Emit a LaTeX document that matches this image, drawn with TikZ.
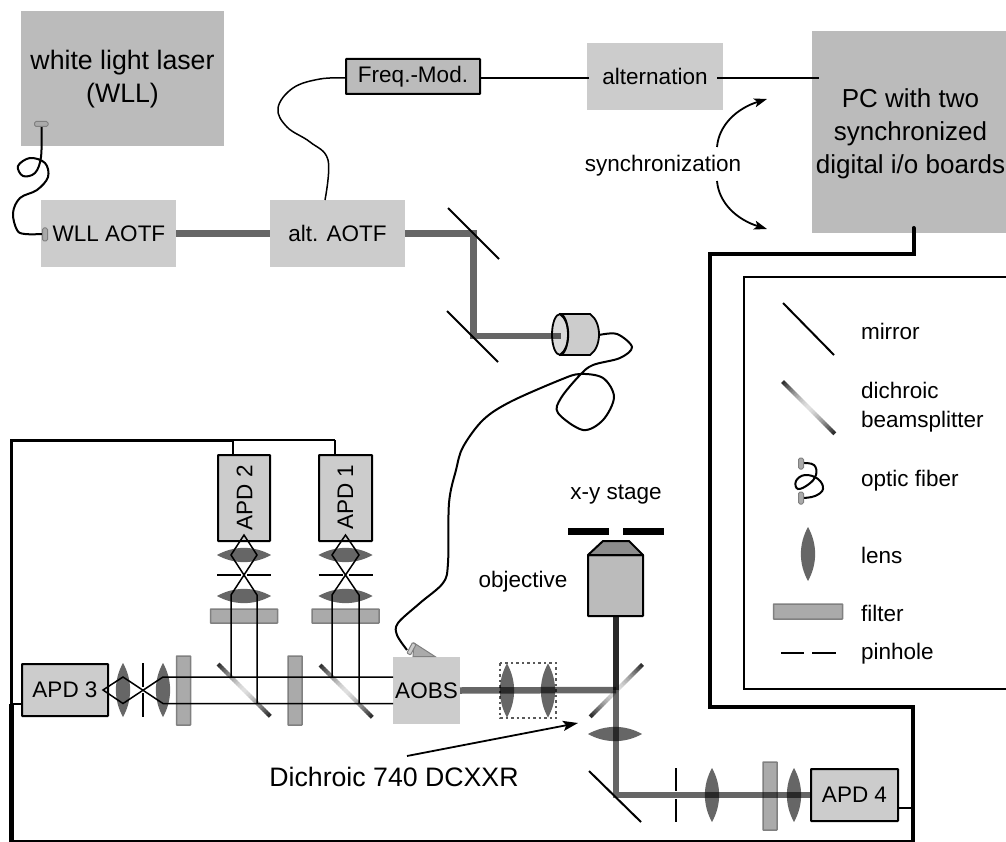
\documentclass[tikz,border=0pt]{standalone}
\usepackage{fontspec}
\setmainfont{Liberation Sans}
\usetikzlibrary{arrows.meta,calc}
\definecolor{boxdark}{HTML}{BBBBBB}
\definecolor{boxlight}{HTML}{CCCCCC}
\definecolor{filt}{HTML}{AAAAAA}
\definecolor{filtedge}{HTML}{808080}
\definecolor{objtop}{HTML}{8C8C8C}
\newcommand{\fsbig}{\fontsize{26.7}{33}\selectfont}
\newcommand{\fspc}{\fontsize{26}{33}\selectfont}
\newcommand{\fsmid}{\fontsize{22.5}{30}\selectfont}
\tikzset{
  x=1pt,y=-1pt,
  box/.style={inner sep=0pt,outer sep=0pt,align=center,font=\fsmid},
  lightbox/.style={box,fill=boxlight},
  darkbox/.style={box,fill=boxdark},
  apdbox/.style={box,fill=boxlight,draw=black,line width=2pt,rounded corners=0.5pt},
  lab/.style={inner sep=0pt,outer sep=0pt,font=\fsmid,align=left},
  wire/.style={line width=1.5pt,draw=black},
  busline/.style={line width=4pt,draw=black,line join=miter},
  beam/.style={line width=6.5pt,draw=black,draw opacity=0.6,line join=miter},
  ray/.style={line width=1.5pt,draw=black,line join=miter},
  mirror/.style={line width=2pt,draw=black},
  fibre/.style={line width=2pt,draw=black},
  filter/.style={box,fill=filt,draw=filtedge,line width=1.5pt,rounded corners=0.5pt},
  lensv/.pic={\fill[black,fill opacity=0.6] (0,-27) .. controls (9.5,-10) and (9.5,10) .. (0,27) .. controls (-9.5,10) and (-9.5,-10) .. (0,-27);},
  dichroic/.pic={
    \foreach \i in {0,...,25} {
      \pgfmathsetmacro{\ta}{-26+2*\i}
      \pgfmathsetmacro{\tb}{\ta+2.3}
      \pgfmathsetmacro{\shd}{min(85,12+73*pow(abs(\ta+1)/26,1.5))}
      \draw[line width=4.2pt,draw=black!\shd] (\ta,\ta) -- (\tb,\tb);
    }
  },
  ferrule/.style={fill=filt,draw=filtedge,line width=1pt,rounded corners=1.5pt},
}
\begin{document}
\begin{tikzpicture}
\useasboundingbox (0,0) rectangle (1006,842);
\clip (0,0) rectangle (1006,842);
% boxes
\node[darkbox,font=\fsbig,minimum width=203pt,minimum height=135pt] (wll) at (122.5,78.5) {};
\node[font=\fsbig,align=center,inner sep=0pt] (wlltext) at (122.5,79) {white light laser\\(WLL)};
\node[lightbox,minimum width=135pt,minimum height=67pt] (wllaotf) at (108.5,233.5) {\hspace*{1pt}WLL AOTF};
\node[lightbox,minimum width=135pt,minimum height=67pt] (altaotf) at (337.5,233.5) {alt. AOTF};
\node[apdbox,fill=boxdark,minimum width=134pt,minimum height=35pt] (freq) at (413,76.5) {Freq.-Mod.};
\node[lightbox,minimum width=136pt,minimum height=67pt] (alt) at (655,76.5) {alternation};
\node[darkbox,font=\fsbig,minimum width=196pt,minimum height=202pt] (pc) at (910,132.5) {};
\node[font=\fspc,align=center,inner sep=0pt] (pctext) at (910.5,134) {PC with two\\synchronized\\digital i/o boards};
% wires top
\coordinate (altl) at (589,78);
\coordinate (altr) at (717,78);
\coordinate (pcl) at (819,78);
\coordinate (freqr) at (480,78);
\draw[wire] (freqr) -- (altl);
\draw[wire] (altr) -- (pcl);
\coordinate (freql) at (346,78);
\coordinate (altaotfn) at (325,200);
\draw[wire] plot[smooth,tension=0.65] coordinates {(freql) (320,79) (293,88) (278,108) (287,127) (310,142) (328,160) (altaotfn)};
% synchronization
\node[lab] (sync) at (663,166) {synchronization};
\coordinate (syncup) at (767,99);
\coordinate (syncdn) at (767,229);
\draw[line width=1.8pt,-{Stealth[length=13pt,width=9pt,inset=3pt]}] (717,147) .. controls (719,124) and (738,108) .. (syncup);
\draw[line width=1.8pt,-{Stealth[length=13pt,width=9pt,inset=3pt]}] (717,181) .. controls (719,204) and (738,220) .. (syncdn);
% WLL fibre
\coordinate (fiba) at (41.5,127);
\coordinate (fibb) at (43,234);
\draw[fibre] plot[smooth,tension=0.6] coordinates {(fiba) (41,157) (35,173) (23,176) (18,166) (30,158) (45,163) (48,177) (37,190) (20,198) (13,213) (17,230) (25,234) (fibb)};
\draw[ferrule] (34.5,121.5) rectangle (48,126.5);
\draw[ferrule] (42.5,228) rectangle (47.5,241);
% optical path top
\coordinate (m1) at (473.5,233.5);
\coordinate (m2) at (473.5,336);
\coordinate (coll) at (561,336);
\draw[fill=boxlight,line width=1.8pt] (560,314) -- (590,314) .. controls (602,322) and (602,347) .. (590,355) -- (560,355) -- cycle;
\draw[fill=black!14,line width=1.8pt] (560,334.5) ellipse [x radius=8pt,y radius=20.5pt];
\draw[beam] (wllaotf.east) -- (altaotf.west);
\draw[beam] (altaotf.east) -- (m1) -- (m2) -- (coll);
\draw[line width=1.8pt] (560,314) .. controls (571,322) and (571,347) .. (560,355);
\draw[mirror] (448,208) -- (499,259);
\draw[mirror] (447,311) -- (498,362);
% long fibre
\coordinate (fiba2) at (599,335);
\coordinate (fibb2) at (407,650);
\draw[fibre] plot[smooth,tension=0.55] coordinates {(fiba2) (617,334) (632,347) (620,358) (593,365) (580,375) (561,398) (558,413) (583,430) (603,420) (614,397) (603,378) (580,374) (560,380) (510,402) (483,420) (463,447) (456,470) (449,503) (448,563) (443,583) (420,603) (398,623) (397,635) (fibb2)};
% detection APD boxes
\node[apdbox,minimum width=52pt,minimum height=86pt] (apdtwo) at (244,498) {};
\node[box,rotate=90] (apdtwot) at (244.5,497.5) {APD 2};
\node[apdbox,minimum width=53pt,minimum height=86pt] (apdone) at (345.5,498) {};
\node[box,rotate=90] (apdonet) at (345.5,497) {APD 1};
\node[apdbox,minimum width=86pt,minimum height=52pt] (apdthree) at (65,690) {APD 3};
\node[apdbox,minimum width=87pt,minimum height=52pt] (apdfour) at (854.5,795) {APD 4};
% AOBS
\node[lightbox,minimum width=67pt,minimum height=67pt] (aobs) at (426.5,690.5) {AOBS};
\draw[fill=filt,draw=filtedge,line width=1pt] (413,656.5) -- (414,643) -- (435,656.5) -- cycle;
\draw[ferrule,fill=boxlight,rounded corners=0.8pt] (407,653) -- (412.5,642.5) -- (416,644.5) -- (410.5,655) -- cycle;
% filters
\node[filter,minimum width=67pt,minimum height=14pt] (fa) at (244,616) {};
\node[filter,minimum width=67pt,minimum height=14pt] (fb) at (345.5,616) {};
\node[filter,minimum width=14pt,minimum height=69pt] (fc) at (183.5,690.5) {};
\node[filter,minimum width=14pt,minimum height=69pt] (fd) at (295,690.5) {};
\node[filter,minimum width=14pt,minimum height=68pt] (fe) at (770,796) {};
% dichroics
\pic at (244,690) {dichroic};
\pic at (346,691) {dichroic};
\pic[xscale=-1] at (616.5,690.5) {dichroic};
% lenses at APD 2 / APD 1
\foreach \cx in {244,345.5} {
  \pic[rotate=90] at (\cx,555) {lensv};
  \pic[rotate=90] at (\cx,596) {lensv};
  \draw[line width=1.3pt] (\cx-27,575) -- (\cx-3,575) (\cx+3,575) -- (\cx+27,575);
}
% APD 3 lenses
\pic at (123,690) {lensv};
\pic at (163,690) {lensv};
\draw[line width=1.3pt] (143,663) -- (143,687) (143,693) -- (143,717);
% rays
\coordinate (ra) at (393,677);
\coordinate (rb) at (393,703.5);
\draw[ray] (ra) -- (166,677) -- (163,677) -- (123,703.5) -- (103,690) -- (123,677) -- (163,703.5) -- (rb);
\draw[ray] (231,677) -- (231,595) -- (257,555) -- (244,535) -- (231,555) -- (257,595) -- (257,703.5);
\draw[ray] (332,677) -- (332,595) -- (359,555) -- (345.5,535) -- (332,555) -- (359,595) -- (359,703.5);
% excitation & emission path
\coordinate (dc) at (616,690);
\coordinate (m3) at (616,795);
\draw[line width=1.2pt,draw=black!65,dash pattern=on 2.5pt off 3pt] (500,663) rectangle (556,718);
\pic at (507,690.5) {lensv};
\pic at (548,690.5) {lensv};
\draw[beam] (aobs.east) -- (dc);
\draw[beam] (616,616) -- (m3) -- (apdfour.west);
\draw[beam,draw opacity=0.6] (616,616) -- (dc);
\pic[rotate=90] at (615,734) {lensv};
\draw[mirror] (589,771) -- (641,822);
\draw[line width=1.4pt] (676,768) -- (676,791) (676,799) -- (676,822);
\pic at (712,795) {lensv};
\pic at (794,795) {lensv};
% objective & stage
\node[apdbox,fill=boxdark,minimum width=55pt,minimum height=61pt] (objbody) at (615.5,585.5) {};
\draw[fill=objtop,line width=2pt,line join=round] (588,555) -- (603,541) -- (629,541) -- (643,555) -- cycle;
\fill[black] (568,528) rectangle (609,535);
\fill[black] (623,528) rectangle (664,535);
\node[lab] (stage) at (616,495) {x-y stage};
\node[lab] (objlab) at (523,582) {objective};
% annotation
\node[lab,font=\fsbig] (dichlab) at (394,777) {Dichroic 740 DCXXR};
\coordinate (arrtail) at (407,756);
\coordinate (arrhead) at (578,723);
\draw[line width=1.8pt,-{Stealth[length=15pt,width=10pt,inset=3pt]}] (arrtail) -- (arrhead);
% control lines
\draw[busline,line cap=round] (913.5,228) -- (913.5,254) -- (710,254) -- (710,707) -- (913,707) -- (913,845);
\draw[line width=2pt] (11,840.5) -- (913,840.5);
\draw[line width=5pt] (11,704) -- (11,845);
\draw[line width=3pt] (11,705) -- (11,440) -- (233,440);
\draw[wire] (233,440) -- (335,440);
\draw[wire] (233,440) -- (233,455);
\draw[wire] (335,440) -- (335,455);
\draw[wire] (11,704) -- (22,704);
\draw[wire] (898,808) -- (913,808);
% legend
\draw[line width=1.5pt] (1010,277) -- (744,277) -- (744,689) -- (1010,689);
\draw[mirror] (783,303) -- (834,355);
\node[lab,anchor=west] (lmirror) at (861,331) {mirror};
\pic at (808.5,407.5) {dichroic};
\node[lab,anchor=west] (ldich) at (861,390) {dichroic};
\node[lab,anchor=west] (lbeam) at (861,422) {beamsplitter};
\draw[fibre] plot[smooth,tension=0.7] coordinates {(803,463) (814,465) (816,475) (809,484) (798,489) (796,481) (805,475) (818,479) (823,489) (815,496) (803,498)};
\draw[ferrule] (798.5,458) rectangle (803.5,469);
\draw[ferrule] (798.5,492) rectangle (803.5,504);
\node[lab,anchor=west] (lfibre) at (861,481) {optic fiber};
\pic at (808,554) {lensv};
\node[lab,anchor=west] (llens) at (861,555) {lens};
\node[filter,minimum width=69pt,minimum height=15pt] (lfilt) at (808,611.5) {};
\node[lab,anchor=west] (lfilter) at (861,613) {filter};
\draw[line width=1.4pt] (781,653) -- (804,653) (812,653) -- (836,653);
\node[lab,anchor=west] (lpin) at (861,654) {pinhole};
\end{tikzpicture}
\end{document}
